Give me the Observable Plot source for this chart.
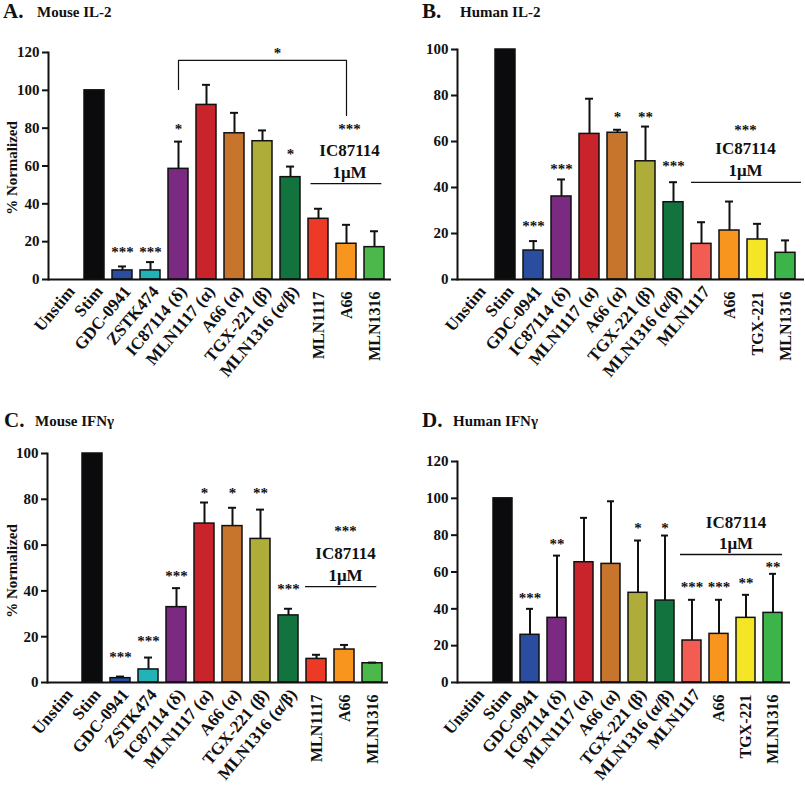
<!DOCTYPE html>
<html><head><meta charset="utf-8">
<script src="https://cdn.jsdelivr.net/npm/d3@7"></script>
<script src="https://cdn.jsdelivr.net/npm/@observablehq/plot@0.6"></script>
<style>
body{margin:0;background:#fff;}
#root{position:relative;width:805px;height:787px;overflow:hidden;font-family:"Liberation Serif",serif;font-weight:bold;color:#111;}
.panel{position:absolute;}
.big{position:absolute;font-size:21px;line-height:24px;white-space:nowrap;}
.sub{position:absolute;font-size:15px;line-height:18px;white-space:nowrap;}
.ylab{position:absolute;font-size:15px;line-height:15px;transform:translate(-50%,-50%) rotate(-90deg);white-space:nowrap;}
</style></head><body><div id="root"></div>
<script>
// ---- categories ----
const catsMouse = ["Unstim","Stim","GDC-0941","ZSTK474","IC87114 (δ)","MLN1117 (α)","A66 (α)","TGX-221 (β)","MLN1316 (α/β)","MLN1117","A66","MLN1316"];
const catsHuman = ["Unstim","Stim","GDC-0941","IC87114 (δ)","MLN1117 (α)","A66 (α)","TGX-221 (β)","MLN1316 (α/β)","MLN1117","A66","TGX-221","MLN1316"];
const colorsMouse = ["#ffffff","#0b0b0d","#2b4da0","#22b3b6","#7a2a80","#c9232b","#c7742c","#aead3a","#12733f","#ec3a26","#f7951e","#4cb84b"];
const colorsHuman = ["#ffffff","#0b0b0d","#2b4da0","#7a2a80","#c9232b","#c7742c","#aead3a","#12733f","#f25c52","#f7951e","#f4e626","#3cb44a"];

// ---- A: Mouse IL-2 ----
const meanA  = [0,100,4.8,4.8,58.5,92.3,77.3,73.1,54.1,32.1,18.9,17.1];
const errA   = [null,null,6.9,9.2,72.9,102.9,88.1,78.8,59.7,37.4,28.9,25.5];
const starsA = ["","","***","***","*","","","","*","","",""];
const starYA = [null,null,16.4,16.4,81.4,null,null,null,68.2,null,null,null];
const ticksA = [0,20,40,60,80,100,120];
const bracketCatsA = ["IC87114 (δ)","IC87114 (δ)","A66","A66"];
const bracketYA    = [100.5,115.8,115.8,86.7];

// ---- B: Human IL-2 ----
const meanB  = [0,100,12.6,36.1,63.3,63.8,51.4,33.6,15.5,21.3,17.4,11.6];
const errB   = [null,null,16.7,43.5,78.6,65.1,66.5,42.3,24.9,33.9,24.2,17];
const starsB = ["","","***","***","","*","**","***","","","",""];
const starYB = [null,null,24.8,49.6,null,72.2,72.2,50.9,null,null,null,null];
const ticksB = [0,20,40,60,80,100];

// ---- C: Mouse IFNγ ----
const meanC  = [0,100,1.9,5.7,32.9,69.4,68.3,62.7,29.3,10.3,14.4,8.4];
const errC   = [null,null,2.6,10.9,41.2,78.6,76.3,75.5,32.2,12.1,16.4,8.7];
const starsC = ["","","***","***","***","*","*","**","***","","",""];
const starYC = [null,null,12.7,19.7,48,84.3,84.3,84.3,42.4,null,null,null];
const ticksC = [0,20,40,60,80,100];

// ---- D: Human IFNγ ----
const meanD  = [0,100,25.9,35.1,65.3,64.4,48.7,44.5,22.8,26.4,35.1,37.8];
const errD   = [null,null,40,68.9,89.4,98.4,77.1,79.8,44.9,44.9,47.6,59];
const starsD = ["","","***","**","","","*","*","***","***","**","**"];
const starYD = [null,null,47.8,77.1,null,null,85.8,85.8,53.7,53.7,55.9,64.6];
const ticksD = [0,20,40,60,80,100,120];

// ---- IC87114 group annotations: [stars y, "IC87114" y, "1μM" y, line y] ----
const groupA = [81.4, 68.2, 56.6, 50.7];
const groupB = [66.5, 57, 47.4, 42.2];
const groupC = [67.7, 56.3, 46.7, 41.9];
const groupD = [null, 86.9, 75.5, 69.5];

const INK = "#111";
const FONT = '"Liberation Serif", "Times New Roman", serif';

function panel(o) {
  const data = o.cats.map((c, i) => ({cat: c, v: o.mean[i], e: o.err[i], s: o.stars[i], sy: o.starY[i]}));
  const withErr = data.filter(d => d.e != null);
  const diag = o.cats.slice(0, 9), vert = o.cats.slice(9);
  const g = o.group;
  const gtexts = [];
  if (g[0] != null) gtexts.push({t: "***", y: g[0], fs: 15, dy: 4});
  gtexts.push({t: "IC87114", y: g[1], fs: 17, dy: 0});
  gtexts.push({t: "1μM", y: g[2], fs: 17, dy: 0});
  const marks = [
    Plot.barY(data, {x: "cat", y: "v", fill: "cat", stroke: INK, strokeWidth: 1.5}),
    Plot.ruleX(withErr, {x: "cat", y1: "v", y2: "e", stroke: INK, strokeWidth: 2}),
    Plot.tickY(withErr, {x: "cat", y: "e", stroke: INK, strokeWidth: 2, insetLeft: 6, insetRight: 6}),
    Plot.text(data.filter(d => d.s), {x: "cat", y: "sy", text: "s", fontSize: 15, fontWeight: "bold", dy: 4, fill: INK}),
    Plot.ruleY([0], {stroke: INK, strokeWidth: 2}),
    Plot.frame({anchor: "left", stroke: INK, strokeWidth: 2}),
    Plot.axisY(o.ticks, {tickSize: 6, tickFormat: () => "", label: null, strokeWidth: 2, stroke: INK}),
    Plot.text(o.ticks, {y: d => d, frameAnchor: "left", textAnchor: "end", dx: -9, fontSize: 15, fontWeight: "bold", fill: INK}),
    Plot.text(diag, {x: d => d, frameAnchor: "bottom", rotate: -50, textAnchor: "end", lineAnchor: "middle", dx: 5, dy: 9, fontSize: 17, fontWeight: "bold", fill: INK}),
    Plot.text(vert, {x: d => d, frameAnchor: "bottom", rotate: -90, textAnchor: "end", lineAnchor: "middle", dx: 0, dy: 12, fontSize: 16, fontWeight: "bold", fill: INK}),
    ...gtexts.map(d => Plot.text([d], {x: () => "A66", y: "y", text: "t", fontSize: d.fs, fontWeight: "bold", dy: d.dy, dx: o.gdx, fill: INK})),
    Plot.ruleY([g[3]], {x1: () => "MLN1117", x2: () => "MLN1316", stroke: INK, strokeWidth: 1.3, insetLeft: o.gl, insetRight: o.gr})
  ];
  if (o.extra) marks.push(...o.extra);
  const svg = Plot.plot({
    width: o.width, height: o.height,
    marginTop: o.mt, marginBottom: o.mb, marginLeft: o.ml, marginRight: o.mr,
    style: {fontFamily: FONT, fontWeight: "bold", background: "transparent", overflow: "visible", color: INK},
    x: {type: "band", domain: o.cats, paddingInner: 0.3, paddingOuter: 0.15, axis: null},
    y: {domain: [0, o.yMax], axis: null},
    color: {domain: o.cats, range: o.colors},
    marks
  });
  svg.classList.add("panel");
  svg.style.left = o.left + "px";
  svg.style.top = o.top + "px";
  return svg;
}

const root = document.getElementById("root");

const bracketA = bracketCatsA.map((c, i) => ({cat: c, y: bracketYA[i]}));

root.appendChild(panel({cats: catsMouse, colors: colorsMouse, mean: meanA, err: errA, stars: starsA, starY: starYA,
  ticks: ticksA, yMax: 120, group: groupA, gdx: 3, gl: 2.5, gr: 2.7,
  width: 400, height: 395, mt: 52, mb: 116, ml: 48, mr: 9, left: 0, top: 0,
  extra: [
    Plot.line(bracketA, {x: "cat", y: "y", stroke: INK, strokeWidth: 1.2}),
    Plot.text([{t: "*", y: 122}], {x: () => "TGX-221 (β)", y: "y", text: "t", fontSize: 15, fontWeight: "bold", dy: 4, dx: 15, fill: INK})
  ]}));

root.appendChild(panel({cats: catsHuman, colors: colorsHuman, mean: meanB, err: errB, stars: starsB, starY: starYB,
  ticks: ticksB, yMax: 100, group: groupB, gdx: 16, gl: 0, gr: -6,
  width: 405, height: 395, mt: 49, mb: 116, ml: 57, mr: 1, left: 400, top: 0}));

root.appendChild(panel({cats: catsMouse, colors: colorsMouse, mean: meanC, err: errC, stars: starsC, starY: starYC,
  ticks: ticksC, yMax: 100, group: groupC, gdx: 1, gl: -1, gr: 5.7,
  width: 400, height: 392, mt: 58, mb: 105, ml: 47, mr: 12, left: 0, top: 395}));

root.appendChild(panel({cats: catsHuman, colors: colorsHuman, mean: meanD, err: errD, stars: starsD, starY: starYD,
  ticks: ticksD, yMax: 120, group: groupD, gdx: 17, gl: -2, gr: 0,
  width: 405, height: 392, mt: 66, mb: 105, ml: 57, mr: 15, left: 400, top: 395}));

// titles: [letter, subtitle, letter x, subtitle x, baseline y]
const titles = [
  ["A.", "Mouse IL-2", 3, 37, 18],
  ["B.", "Human IL-2", 422, 460, 18],
  ["C.", "Mouse IFNγ", 4, 35, 427],
  ["D.", "Human IFNγ", 422, 453, 427]
];
for (const [big, sub, xb, xs, base] of titles) {
  const b = document.createElement("div");
  b.className = "big"; b.textContent = big;
  b.style.left = xb + "px"; b.style.top = (base - 19) + "px";
  root.appendChild(b);
  const s = document.createElement("div");
  s.className = "sub"; s.textContent = sub;
  s.style.left = xs + "px"; s.style.top = (base - 1 - 14) + "px";
  root.appendChild(s);
}
for (const yc of [168, 571]) {
  const l = document.createElement("div");
  l.className = "ylab"; l.textContent = "% Normalized";
  l.style.left = "12px"; l.style.top = yc + "px";
  root.appendChild(l);
}
</script>
</body></html>
